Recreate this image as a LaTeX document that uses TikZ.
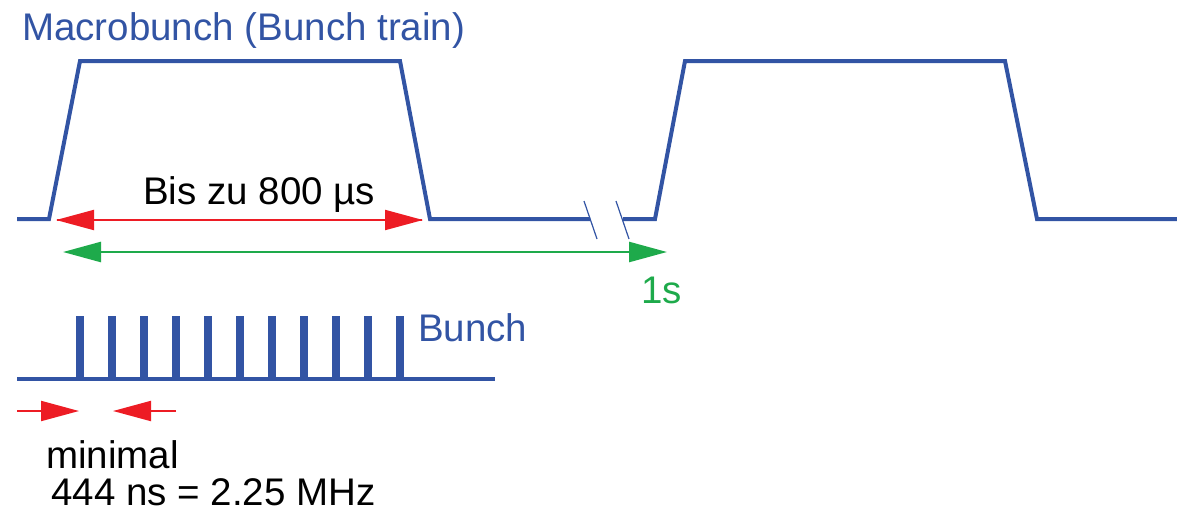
\documentclass[tikz,border=0pt]{standalone}
\usepackage{fontspec}
\setmainfont{Liberation Sans}
\usetikzlibrary{arrows.meta}
\definecolor{wblue}{RGB}{50,84,164}
\definecolor{wred}{RGB}{237,28,36}
\definecolor{wgreen}{RGB}{30,170,75}
\begin{document}
\begin{tikzpicture}[x=1pt,y=-1pt,
  wave/.style={draw=wblue,line width=4pt,line join=miter},
  brk/.style={draw=wblue,line width=1.2pt},
  pulse/.style={fill=wblue,draw=none},
  redarr/.style={draw=wred,line width=2pt,-{Triangle[length=38pt,width=20pt]}},
  greenarr/.style={draw=wgreen,line width=2.5pt,{Triangle[length=38pt,width=20pt]}-{Triangle[length=38pt,width=20pt]}},
  lbl/.style={anchor=base west,inner sep=0pt,font=\fontsize{38.5}{46}\selectfont}]
\useasboundingbox (0,0) rectangle (1177,515);
% macrobunch waveform
\draw[wave] (17,219) -- (49,219) -- (80,61) -- (400,61) -- (430,219) -- (590,219);
\draw[wave] (623,219) -- (655,219) -- (685,61) -- (1005,61) -- (1037,219) -- (1177,219);
\draw[brk] (584,201) -- (597,239);
\draw[brk] (616,201) -- (629,239);
% arrows
\coordinate (rA) at (56,220);
\coordinate (rB) at (423,220);
\draw[redarr] (rB) ++(-1,0) -- (rA);
\draw[redarr] (rA) ++(1,0) -- (rB);
\coordinate (gA) at (63,252);
\coordinate (gB) at (667,252);
\draw[greenarr] (gA) -- (gB);
% bunch train
\draw[wave] (17,379) -- (495,379);
\foreach \i in {0,...,10}{
  \fill[pulse] ({76+32*\i},316) rectangle ({84+32*\i},379);
}
% small arrows
\coordinate (s1) at (17,411);
\coordinate (s2) at (79,411);
\coordinate (s3) at (176,411);
\coordinate (s4) at (113,411);
\draw[redarr] (s1) -- (s2);
\draw[redarr] (s3) -- (s4);
% labels
\node[lbl,text=wblue] (macro) at (22,40) {Macrobunch (Bunch train)};
\node[lbl] (bis) at (143,204) {Bis zu 800 µs};
\node[lbl,text=wgreen] (one) at (641,303) {1s};
\node[lbl,text=wblue] (bunch) at (418,341) {Bunch};
\node[lbl] (mini) at (46,468) {minimal};
\node[lbl] (freq) at (51,505) {444 ns = 2.25 MHz};
\end{tikzpicture}
\end{document}
